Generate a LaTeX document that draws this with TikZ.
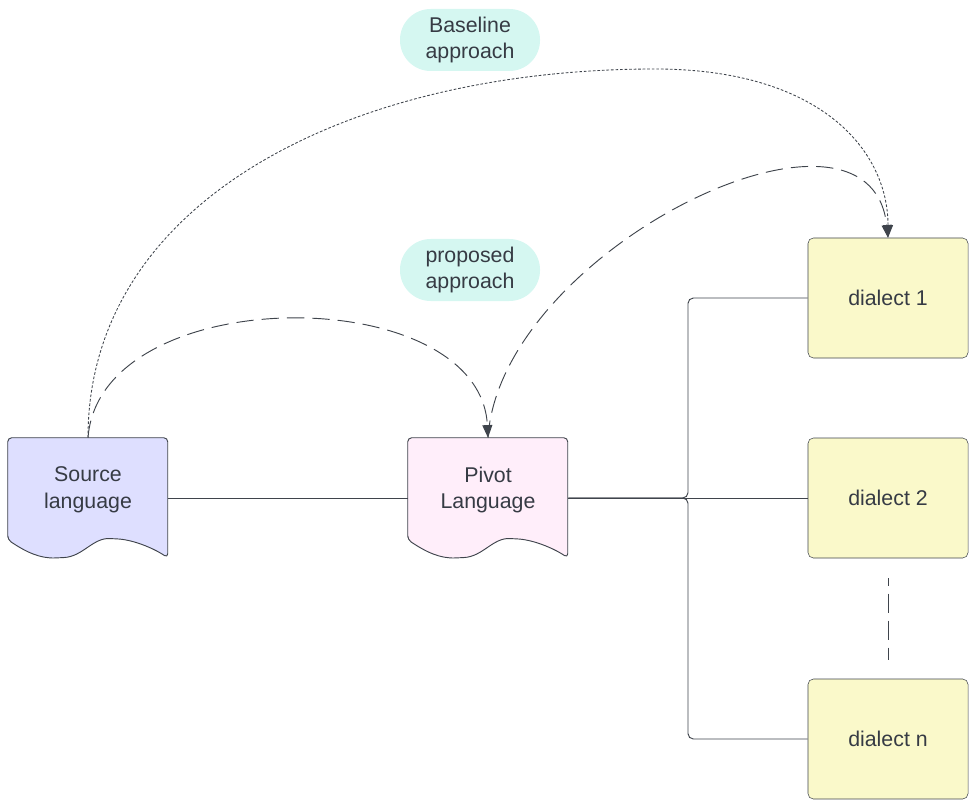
\documentclass[tikz,border=0pt]{standalone}
\usepackage{fontspec}
\setmainfont{Liberation Sans}
\usepackage{xcolor}
\usetikzlibrary{positioning, calc, arrows.meta}

\definecolor{inkgray}{HTML}{363B44}
\definecolor{linegray}{HTML}{3F444C}
\definecolor{srcfill}{HTML}{DEDFFF}
\definecolor{pivotfill}{HTML}{FFEEFA}
\definecolor{dialectfill}{HTML}{FAF9CA}
\definecolor{pillfill}{HTML}{D5F7F1}

\tikzstyle{doc} = [rectangle, minimum width=120pt, minimum height=90pt, inner sep=0pt]
\tikzstyle{doctext} = [align=center, text=inkgray]
\tikzstyle{dialect} = [rectangle, draw=linegray, fill=dialectfill, rounded corners=4pt,
    minimum width=120pt, minimum height=90pt, text=inkgray]
\tikzstyle{pill} = [rectangle, fill=pillfill, rounded corners=23pt, align=center,
    minimum width=105pt, minimum height=46.5pt, text=inkgray]
\tikzstyle{link} = [draw=linegray, line width=0.7pt]
\tikzstyle{flow} = [link, -{Triangle[length=9.5pt,width=7.5pt]}]
\tikzstyle{longdash} = [dash pattern=on 13pt off 6pt]
\tikzstyle{dotline} = [line width=0.65pt, dash pattern=on 2pt off 1.4pt]

% document shape drawn round a doc node
\newcommand{\docoutline}[2]{%
  \draw [link, fill=#2, rounded corners=3pt, shift={(#1.north west)}]
    (0,102) -- (0,0) -- (160,0) -- (160,120)
    .. controls (145,110) and (125,102) .. (106,101)
    .. controls (85,100) and (75,119) .. (52,120)
    .. controls (32,121) and (18,114) .. (0,102) -- cycle;}

\begin{document}
\begin{tikzpicture}[x=0.75pt, y=-0.75pt, >=latex, font=\fontsize{16pt}{20pt}\selectfont]
  \useasboundingbox (0,0) rectangle (973,805);

  % Nodes
  \node [doc] (src) at (88,498) {};
  \node [doc, right of=src, node distance=300pt] (pivot) {};
  \docoutline{src}{srcfill}
  \docoutline{pivot}{pivotfill}
  \node [doctext] (srctext) at ([yshift=6pt]src.center) {Source\\language};
  \node [doctext] (pivottext) at ([yshift=6pt]pivot.center) {Pivot\\Language};

  \node [dialect, right of=pivot, node distance=300pt] (d2) {dialect 2};
  \node [dialect, above of=d2, node distance=150pt] (d1) {dialect 1};
  \node [dialect, below of=d2, node distance=180.75pt] (dn) {dialect n};

  \node [pill] (base) at (470,40) {Baseline\\approach};
  \node [pill] (prop) at (470,270) {proposed\\approach};

  % Connections
  \coordinate (bus) at (688,498);
  \draw [link] (src) -- (pivot);
  \draw [link] (pivot) -- (d2);
  \draw [link, rounded corners=4pt] (pivot.east) -| (bus |- d1.west) -- (d1.west);
  \draw [link, rounded corners=4pt] (pivot.east) -| (bus |- dn.west) -- (dn.west);
  \draw [link, dash pattern=on 14.6pt off 5.6pt, dash phase=8.6pt]
    ([yshift=-15pt]d2.south) -- ([yshift=14pt]dn.north);

  % baseline and proposed routes
  \draw [flow, dotline] (src.north) .. controls (88,200) and (350,69) .. (655,69)
    .. controls (820,69) and (888,150) .. (d1.north);
  \draw [flow, longdash] (src.north) .. controls (100,280) and (480,280) .. (pivot.north);
  \draw [flow, longdash] (pivot.north) .. controls (500,250) and (870,70) .. (d1.north);

\end{tikzpicture}
\end{document}
